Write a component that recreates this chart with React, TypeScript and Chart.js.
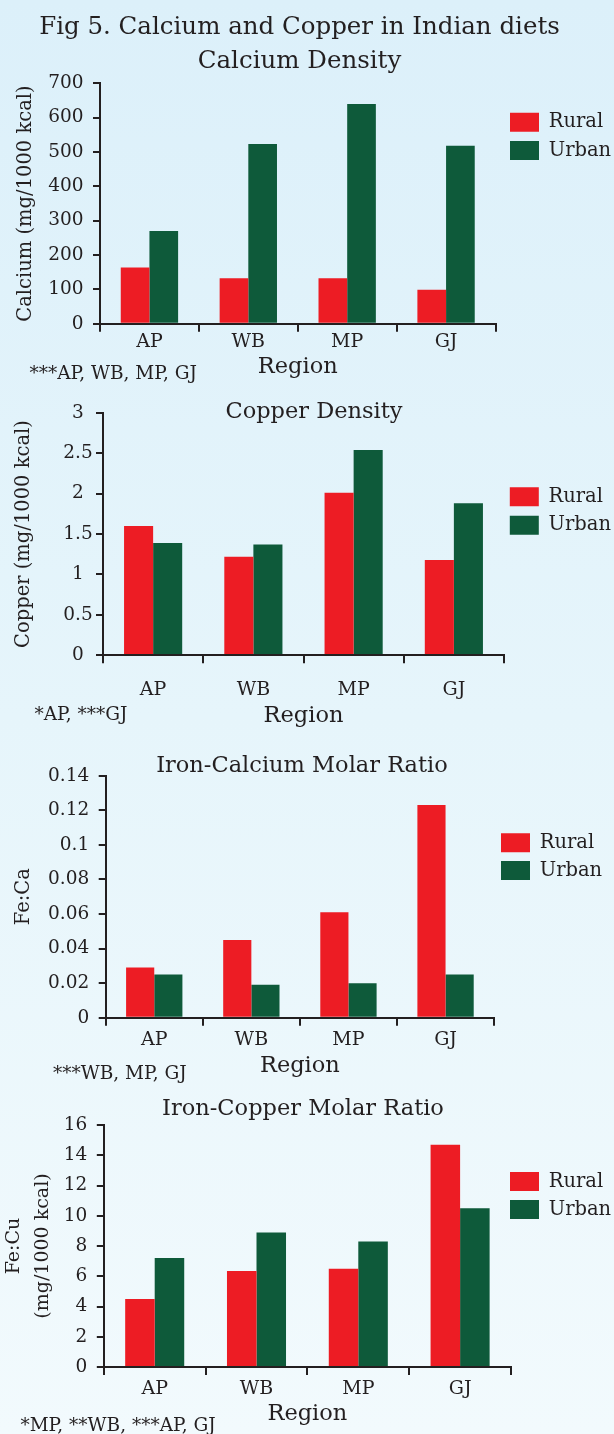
import React, { useEffect, useRef } from "react";
import { Chart, registerables } from "chart.js";

Chart.register(...registerables);

// ---------- data ----------
const regions = ["AP", "WB", "MP", "GJ"];
const seriesNames = ["Rural", "Urban"];

const figureTitle = "Fig 5. Calcium and Copper in Indian diets";

const calciumRural = [164, 132, 132, 99];
const calciumUrban = [270, 523, 640, 518];
const calciumTicks = [0, 100, 200, 300, 400, 500, 600, 700];

const copperRural = [1.6, 1.22, 2.01, 1.18];
const copperUrban = [1.39, 1.37, 2.54, 1.88];
const copperTicks = [0, 0.5, 1, 1.5, 2, 2.5, 3];

const feCaRural = [0.029, 0.045, 0.061, 0.123];
const feCaUrban = [0.025, 0.019, 0.02, 0.025];
const feCaTicks = [0, 0.02, 0.04, 0.06, 0.08, 0.1, 0.12, 0.14];

const feCuRural = [4.5, 6.35, 6.5, 14.7];
const feCuUrban = [7.2, 8.9, 8.3, 10.5];
const feCuTicks = [0, 2, 4, 6, 8, 10, 12, 14, 16];

const xAxisTitle = "Region";

// ---------- styles ----------
const FONT = "DejaVu Serif";
const TEXT = "#231f20";
const AXIS = "#231f20";
const RED = "#ed1c24";
const GREEN = "#0e5a3a";
const W = 614;

const LEGEND_FS = 19.5;
const LEGEND_BW = 29;
const LEGEND_BH = 19;
const XTICK_FS = 19;
const XTITLE_FS = 22.5;
const YTICK_FS = 18.5;
const NOTE_FS = 18.5;

type Panel = {
  title: string[];
  yTitle: string | string[];
  rural: number[];
  urban: number[];
  ticks: number[];
  note: string;
  // geometry (page coordinates)
  top: number;
  height: number;
  left: number;
  right: number;
  plotTop: number;
  plotBottom: number;
  titleX: number;
  titleMid: number;
  titleSize: number;
  titleLH: number;
  xLabelMid: number;
  xTitleMid: number;
  yTitleX: number;
  yTitleSize: number;
  yTitleLH: number;
  yTickPad: number;
  yAlign: "near" | "center";
  legendX: number;
  legendBoxTop: number;
  legendStep: number;
  noteX: number;
  noteMid: number;
};

const panels: Panel[] = [
  {
    title: [figureTitle, "Calcium Density"],
    yTitle: "Calcium (mg/1000 kcal)",
    rural: calciumRural,
    urban: calciumUrban,
    ticks: calciumTicks,
    note: "***AP, WB, MP, GJ",
    top: 0, height: 386,
    left: 100, right: 495.5, plotTop: 83.3, plotBottom: 323.7,
    titleX: 299.5, titleMid: 27.6, titleSize: 24.5, titleLH: 34,
    xLabelMid: 342.3, xTitleMid: 367,
    yTitleX: 25.5, yTitleSize: 19.5, yTitleLH: 19.5,
    yTickPad: 9.5, yAlign: "near",
    legendX: 510, legendBoxTop: 112.7, legendStep: 28.3,
    noteX: 29.4, noteMid: 372.5,
  },
  {
    title: ["Copper Density"],
    yTitle: "Copper (mg/1000 kcal)",
    rural: copperRural,
    urban: copperUrban,
    ticks: copperTicks,
    note: "*AP, ***GJ",
    top: 388, height: 350,
    left: 103, right: 504, plotTop: 412.7, plotBottom: 655.3,
    titleX: 314, titleMid: 412.5, titleSize: 22.5, titleLH: 23,
    xLabelMid: 689.6, xTitleMid: 716.5,
    yTitleX: 23.5, yTitleSize: 19.5, yTitleLH: 19.5,
    yTickPad: 3.3, yAlign: "center",
    legendX: 509.8, legendBoxTop: 487.3, legendStep: 28.4,
    noteX: 34.5, noteMid: 714,
  },
  {
    title: ["Iron-Calcium Molar Ratio"],
    yTitle: "Fe:Ca",
    rural: feCaRural,
    urban: feCaUrban,
    ticks: feCaTicks,
    note: "***WB, MP, GJ",
    top: 740, height: 346,
    left: 105.7, right: 494.1, plotTop: 775.7, plotBottom: 1017.7,
    titleX: 302, titleMid: 766.5, titleSize: 22.5, titleLH: 23,
    xLabelMid: 1040.4, xTitleMid: 1066,
    yTitleX: 24, yTitleSize: 19.5, yTitleLH: 19.5,
    yTickPad: 9.5, yAlign: "near",
    legendX: 501, legendBoxTop: 833.3, legendStep: 27.7,
    noteX: 52.9, noteMid: 1072.5,
  },
  {
    title: ["Iron-Copper Molar Ratio"],
    yTitle: ["Fe:Cu", "(mg/1000 kcal)"],
    rural: feCuRural,
    urban: feCuUrban,
    ticks: feCuTicks,
    note: "*MP, **WB, ***AP, GJ",
    top: 1088, height: 346,
    left: 103.8, right: 511, plotTop: 1125, plotBottom: 1367,
    titleX: 303, titleMid: 1109.5, titleSize: 22.5, titleLH: 23,
    xLabelMid: 1389.3, xTitleMid: 1414,
    yTitleX: 14.2, yTitleSize: 19, yTitleLH: 29.3,
    yTickPad: 9.5, yAlign: "near",
    legendX: 510, legendBoxTop: 1172, legendStep: 28,
    noteX: 20.4, noteMid: 1425,
  },
];

// Places title and legend at given canvas coordinates after layout.
const placer = {
  id: "placer",
  afterLayout(chart: any, _args: any, opts: any) {
    const t = chart.titleBlock;
    if (t && opts && opts.titleX != null) {
      const h = t.bottom - t.top;
      t.left = opts.titleX - 400;
      t.right = opts.titleX + 400;
      t.width = 800;
      t.top = opts.titleTop;
      t.bottom = opts.titleTop + h;
    }
    const lg = chart.legend;
    if (lg && opts && opts.legendX != null) {
      const p = lg.options.labels.padding;
      lg.left = opts.legendX - p;
      lg.width = 200;
      lg.right = lg.left + 200;
      lg.top = opts.legendTop;
      lg.height = 200;
      lg.bottom = lg.top + 200;
    }
  },
};

function BarPanel({ p }: { p: Panel }) {
  const ref = useRef<HTMLCanvasElement>(null);
  useEffect(() => {
    const t = p.plotTop - p.top;
    const b = p.plotBottom - p.top;
    const xH = p.xTitleMid - p.top + XTITLE_FS / 2 - b;
    const padBottom = p.height - b - xH;
    const padTop = t - p.title.length * p.titleLH;
    const xLabelPad = p.xLabelMid - p.top - b - 8 - XTICK_FS / 2;
    const yTitlePadTop = p.yTitleX - p.yTitleLH / 2;
    const legendPad = p.legendStep - LEGEND_FS;
    const legendTop = p.legendBoxTop - p.top - legendPad - Math.max((LEGEND_FS - LEGEND_BH) / 2, 0);
    const titleTop = p.titleMid - p.top - p.titleLH / 2;
    const ticks = p.ticks;

    const chart = new Chart(ref.current as HTMLCanvasElement, {
      type: "bar",
      data: {
        labels: regions,
        datasets: [
          { label: seriesNames[0], data: p.rural, backgroundColor: RED, borderWidth: 0 },
          { label: seriesNames[1], data: p.urban, backgroundColor: GREEN, borderWidth: 0 },
        ],
      },
      options: {
        responsive: false,
        maintainAspectRatio: false,
        animation: false,
        devicePixelRatio: 1,
        events: [],
        datasets: { bar: { categoryPercentage: 0.58, barPercentage: 1 } },
        layout: {
          padding: { left: 0, right: W - p.right, top: padTop, bottom: padBottom },
        },
        plugins: {
          title: {
            display: true,
            text: p.title,
            color: TEXT,
            align: "center",
            padding: 0,
            font: { family: FONT, size: p.titleSize, weight: "normal", lineHeight: p.titleLH + "px" },
          },
          legend: {
            display: true,
            position: "chartArea",
            align: "start",
            labels: {
              boxWidth: LEGEND_BW,
              boxHeight: LEGEND_BH,
              padding: legendPad,
              color: TEXT,
              font: { family: FONT, size: LEGEND_FS },
            },
          },
          tooltip: { enabled: false },
          placer: { titleX: p.titleX, titleTop, legendX: p.legendX, legendTop },
        } as any,
        scales: {
          x: {
            type: "category",
            offset: true,
            grid: {
              display: true,
              offset: true,
              drawOnChartArea: false,
              drawTicks: true,
              tickLength: 8,
              color: AXIS,
              lineWidth: 2,
              z: 1,
            },
            border: { display: true, color: AXIS, width: 2, z: 1 },
            ticks: {
              color: TEXT,
              font: { family: FONT, size: XTICK_FS, lineHeight: 1 },
              padding: xLabelPad,
              autoSkip: false,
              maxRotation: 0,
              minRotation: 0,
            },
            title: {
              display: true,
              text: xAxisTitle,
              color: TEXT,
              font: { family: FONT, size: XTITLE_FS, lineHeight: 1 },
              padding: 0,
            },
            afterFit: (s: any) => {
              s.height = xH;
            },
          },
          y: {
            type: "linear",
            min: ticks[0],
            max: ticks[ticks.length - 1],
            afterBuildTicks: (s: any) => {
              s.ticks = ticks.map((v) => ({ value: v }));
            },
            grid: {
              display: true,
              drawOnChartArea: false,
              drawTicks: true,
              tickLength: 7,
              color: AXIS,
              lineWidth: 2,
              z: 1,
            },
            border: { display: true, color: AXIS, width: 2, z: 1 },
            ticks: {
              color: TEXT,
              font: { family: FONT, size: YTICK_FS, lineHeight: 1 },
              padding: p.yTickPad,
              crossAlign: p.yAlign,
              autoSkip: false,
              callback: (v: any) => String(v),
            },
            title: {
              display: true,
              text: p.yTitle,
              color: TEXT,
              font: { family: FONT, size: p.yTitleSize, lineHeight: p.yTitleLH + "px" },
              padding: { top: yTitlePadTop, bottom: 0 },
            },
            afterFit: (s: any) => {
              s.width = p.left;
            },
          },
        } as any,
      },
      plugins: [placer],
    });
    return () => chart.destroy();
  }, [p]);

  return (
    <canvas
      ref={ref}
      width={W}
      height={p.height}
      style={{ position: "absolute", left: 0, top: p.top, width: W, height: p.height }}
    />
  );
}

export default function App() {
  return (
    <div
      style={{
        position: "absolute",
        left: 0,
        top: 0,
        width: W,
        height: 1434,
        overflow: "hidden",
        background: "linear-gradient(180deg, #dcf0fa 0%, #e6f5fb 50%, #f2fafd 100%)",
      }}
    >
      {panels.map((p, i) => (
        <BarPanel key={i} p={p} />
      ))}
      {panels.map((p, i) => (
        <div
          key={"n" + i}
          style={{
            position: "absolute",
            left: p.noteX,
            top: p.noteMid - 0.4815 * NOTE_FS,
            fontFamily: FONT,
            fontSize: NOTE_FS,
            lineHeight: NOTE_FS + "px",
            color: TEXT,
            whiteSpace: "nowrap",
          }}
        >
          {p.note}
        </div>
      ))}
    </div>
  );
}
